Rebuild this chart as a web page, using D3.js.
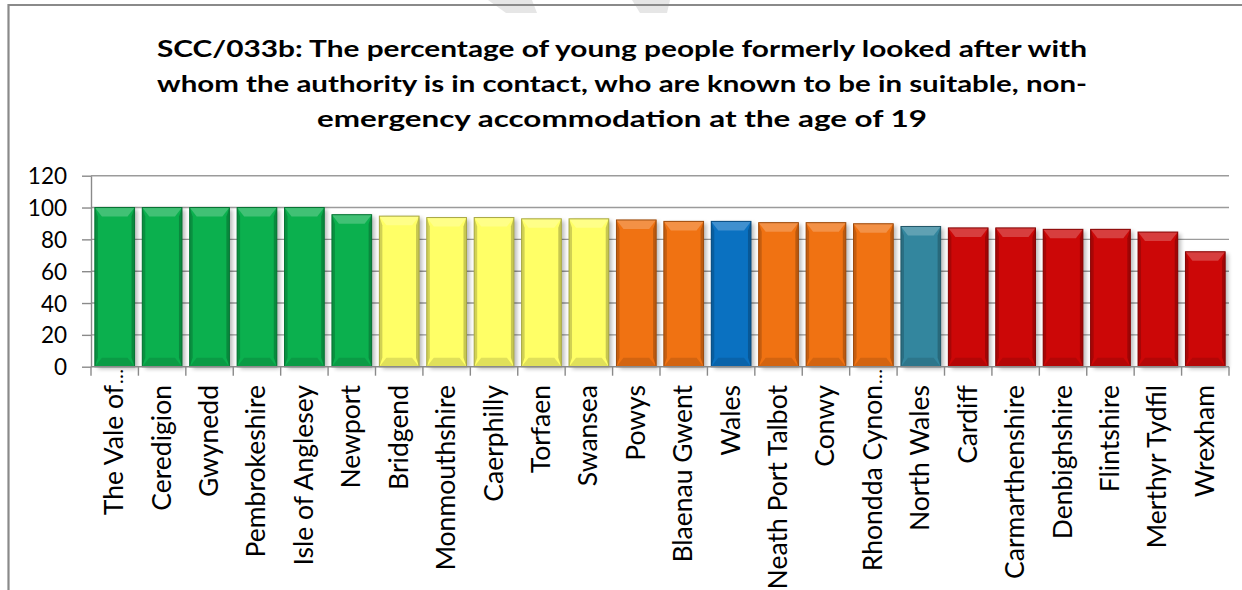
<!DOCTYPE html>
<html>
<head>
<meta charset="utf-8">
<script src="https://cdn.jsdelivr.net/npm/d3@7"></script>
<style>
  html, body { margin: 0; padding: 0; background: #fff; }
  svg { display: block; }
</style>
</head>
<body>
<svg id="chart" width="1242" height="590"></svg>
<script>
// SCC/033b values by authority (percent)
const categories = [
  "The Vale of…", "Ceredigion", "Gwynedd", "Pembrokeshire", "Isle of Anglesey",
  "Newport", "Bridgend", "Monmouthshire", "Caerphilly", "Torfaen", "Swansea",
  "Powys", "Blaenau Gwent", "Wales", "Neath Port Talbot", "Conwy",
  "Rhondda Cynon…", "North Wales", "Cardiff", "Carmarthenshire", "Denbighshire",
  "Flintshire", "Merthyr Tydfil", "Wrexham"
];
const values = [
  100, 100, 100, 100, 100,
  95.5, 94.6, 93.7, 93.7, 92.9, 92.9,
  92.2, 91.3, 91.3, 90.5, 90.5,
  89.8, 88.1, 87.2, 87.2, 86.3,
  86.3, 84.6, 72.2
];
// performance band of each bar
const bands = [
  "green", "green", "green", "green", "green",
  "green", "yellow", "yellow", "yellow", "yellow", "yellow",
  "orange", "orange", "wales", "orange", "orange",
  "orange", "north", "red", "red", "red",
  "red", "red", "red"
];
const yTicks = [0, 20, 40, 60, 80, 100, 120];
const titleLines = [
  "SCC/033b: The percentage of young people formerly looked after with",
  "whom the authority is in contact, who are known to be in suitable, non-",
  "emergency accommodation at the age of 19"
];

const palette = {
  green: "#0BB04E",
  yellow: "#FFFF66",
  orange: "#F07212",
  wales: "#0A71C1",
  north: "#33869E",
  red: "#CC0707"
};

const FONT = "Lato, 'Open Sans', sans-serif";
const svg = d3.select("#chart");
const W = 1242, H = 590;
const plot = { left: 91, right: 1229, top: 175.7, bottom: 366.7 };

svg.append("rect").attr("width", W).attr("height", H).attr("fill", "#fff");

// faint shapes bleeding in above the frame
svg.append("g").attr("fill", "#e6e6e6")
  .selectAll("polygon")
  .data([
    [[488, 0], [532, 0], [537, 13], [506, 13]],
    [[632, 0], [670, 0], [667, 13], [640, 13]]
  ])
  .join("polygon")
  .attr("points", d => d.map(p => p.join(",")).join(" "));

// chart frame (top and left edges)
svg.append("path")
  .attr("d", `M8.5,590 V5 H${W}`)
  .attr("fill", "none")
  .attr("stroke", "#8a8a8a")
  .attr("stroke-width", 2.2);

// title, each line stretched to its set width
const titleWidths = [930, 930, 610];
svg.append("g")
  .selectAll("text")
  .data(titleLines)
  .join("text")
  .attr("x", 622)
  .attr("y", (d, i) => 57 + i * 35)
  .attr("text-anchor", "middle")
  .attr("font-family", FONT)
  .attr("font-weight", 700)
  .attr("font-size", 23)
  .attr("fill", "#000")
  .attr("textLength", (d, i) => titleWidths[i])
  .attr("lengthAdjust", "spacingAndGlyphs")
  .text(d => d);

const x = d3.scaleBand().domain(categories).range([plot.left, plot.right]).padding(0);
const y = d3.scaleLinear().domain([0, 120]).range([plot.bottom, plot.top]);

const defs = svg.append("defs");
const shadow = defs.append("filter").attr("id", "barShadow")
  .attr("x", "-20%").attr("y", "-10%").attr("width", "150%").attr("height", "130%");
shadow.append("feGaussianBlur").attr("stdDeviation", 2);

// horizontal gridlines
svg.append("g")
  .selectAll("line")
  .data(yTicks.filter(t => t > 0))
  .join("line")
  .attr("x1", plot.left).attr("x2", plot.right)
  .attr("y1", d => y(d)).attr("y2", d => y(d))
  .attr("stroke", "#9b9b9b")
  .attr("stroke-width", 1.4);

// y axis
const yAxis = svg.append("g")
  .attr("transform", `translate(${plot.left},0)`)
  .call(d3.axisLeft(y).tickValues(yTicks).tickSize(9).tickSizeOuter(0).tickPadding(15));
yAxis.select(".domain").attr("stroke", "#8a8a8a").attr("stroke-width", 1.4);
yAxis.selectAll(".tick line").attr("stroke", "#8a8a8a").attr("stroke-width", 1.4);
yAxis.selectAll(".tick text")
  .attr("font-family", FONT)
  .attr("font-size", 22.5)
  .attr("fill", "#000")
  .attr("dy", "0.36em");

// bars with a bevelled face and soft drop shadow
const barFrac = 0.837;
const bw = x.bandwidth() * barFrac;
const bevel = 9, side = 3;

function shade(c, k) {
  const col = d3.rgb(c);
  return k >= 0 ? d3.interpolateRgb(col, "#fff")(k) : d3.interpolateRgb(col, "#000")(-k);
}

const bar = svg.append("g")
  .selectAll("g")
  .data(categories.map((c, i) => ({ c, v: values[i], band: bands[i] })))
  .join("g")
  .attr("transform", d => `translate(${x(d.c) + (x.bandwidth() - bw) / 2},${y(d.v)})`);

bar.append("rect")
  .attr("x", 3).attr("y", 2)
  .attr("width", bw).attr("height", d => y(0) - y(d.v))
  .attr("fill", "#000").attr("opacity", 0.28)
  .attr("filter", "url(#barShadow)");

bar.append("rect")
  .attr("width", bw).attr("height", d => y(0) - y(d.v))
  .attr("fill", d => palette[d.band]);

bar.append("polygon")
  .attr("points", d => {
    const h = y(0) - y(d.v);
    return `0,0 ${side},${bevel} ${side},${h - bevel} 0,${h}`;
  })
  .attr("fill", d => shade(palette[d.band], -0.18));
bar.append("polygon")
  .attr("points", d => {
    const h = y(0) - y(d.v);
    return `${bw},0 ${bw - side},${bevel} ${bw - side},${h - bevel} ${bw},${h}`;
  })
  .attr("fill", d => shade(palette[d.band], -0.22));
bar.append("polygon")
  .attr("points", `0,0 ${bw},0 ${bw - side - 4},${bevel} ${side + 4},${bevel}`)
  .attr("fill", d => shade(palette[d.band], 0.22));
bar.append("polygon")
  .attr("points", d => {
    const h = y(0) - y(d.v);
    return `0,${h} ${bw},${h} ${bw - side - 4},${h - bevel} ${side + 4},${h - bevel}`;
  })
  .attr("fill", d => shade(palette[d.band], -0.12));

bar.append("rect")
  .attr("width", bw).attr("height", d => y(0) - y(d.v))
  .attr("fill", "none")
  .attr("stroke", d => shade(palette[d.band], -0.35))
  .attr("stroke-width", 1);

// x axis line and tick marks between categories
svg.append("line")
  .attr("x1", plot.left).attr("x2", plot.right)
  .attr("y1", y(0)).attr("y2", y(0))
  .attr("stroke", "#8a8a8a").attr("stroke-width", 1.4);
svg.append("g")
  .selectAll("line")
  .data(categories.concat([null]))
  .join("line")
  .attr("x1", d => d ? x(d) : plot.right)
  .attr("x2", d => d ? x(d) : plot.right)
  .attr("y1", y(0)).attr("y2", y(0) + 9)
  .attr("stroke", "#8a8a8a").attr("stroke-width", 1.4);

// rotated category labels; a trailing ellipsis runs on past the label edge
const labelTop = 385;
const lab = svg.append("g")
  .selectAll("g")
  .data(categories)
  .join("g")
  .attr("transform", d => `translate(${x(d) + x.bandwidth() / 2 + 8.5},${labelTop}) rotate(-90)`)
  .attr("font-family", FONT)
  .attr("font-size", 26.5)
  .attr("fill", "#000");
lab.append("text")
  .attr("text-anchor", "end")
  .text(d => d.endsWith("…") ? d.slice(0, -1) : d);
lab.filter(d => d.endsWith("…"))
  .append("text")
  .attr("x", 1)
  .attr("letter-spacing", -2)
  .attr("font-size", 20)
  .text("…");
</script>
</body>
</html>
